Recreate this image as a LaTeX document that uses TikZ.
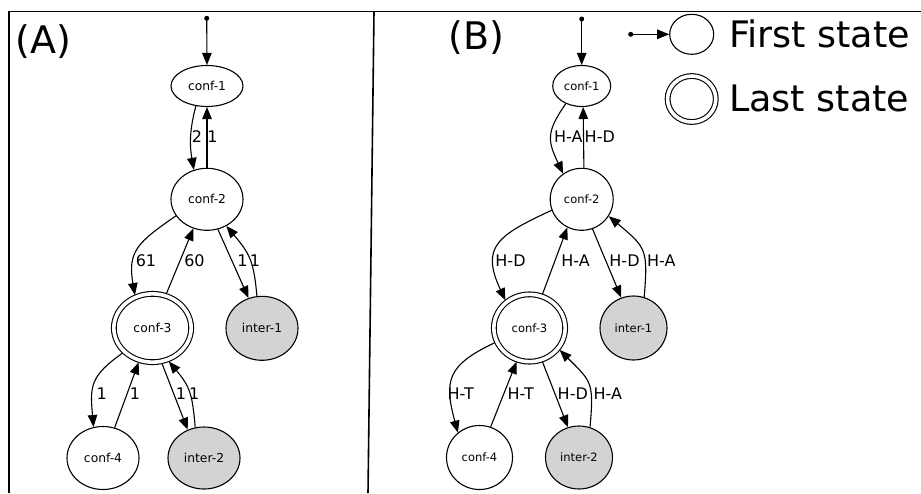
\documentclass[tikz,border=0pt]{standalone}
\usepackage{fontspec}
\setmainfont{DejaVu Sans}
\usetikzlibrary{arrows.meta,shapes.geometric}
\definecolor{nodegray}{RGB}{211,211,211}
\begin{document}
\begin{tikzpicture}[x=1pt,y=-1pt,
  st/.style={draw, ellipse, line width=1.1pt, inner sep=0pt, font=\fontsize{12.3}{14}\selectfont},
  stb/.style={st, font=\fontsize{11.5}{13}\selectfont},
  inter/.style={fill=nodegray},
  final/.style={double, double distance=3.6pt, outer sep=2.35pt},
  edge/.style={line width=1.1pt, -{Triangle[length=12pt,width=9.5pt]}},
  lbl/.style={font=\fontsize{16}{19}\selectfont, inner sep=0pt},
  big/.style={font=\fontsize{36.5}{44}\selectfont, inner sep=0pt, anchor=base west},
  title/.style={font=\fontsize{38}{46}\selectfont, inner sep=0pt, anchor=base west},
  frame/.style={line width=1.6pt},
  initdot/.style={fill=black}
]
\useasboundingbox (0,0) rectangle (921,493);
% frame
\coordinate (tl) at (9,11.5);
\coordinate (tr) at (921,11.5);
\coordinate (bl) at (9,493);
\coordinate (dt) at (374,11.5);
\coordinate (db) at (368,493);
\draw[frame] (bl) -- (tl) -- (tr);
\draw[frame] (dt) -- (db);

% titles
\node[title] (tA) at (15,53) {(A)};
\node[title] (tB) at (448.5,49) {(B)};

% ---------- panel A ----------
\coordinate (a0) at (206.7,18.3);
\fill[initdot] (a0) circle (2.5pt);
\node[st, minimum width=72pt, minimum height=41pt] (a1) at (207,86) {conf-1};
\node[st, minimum width=72pt, minimum height=62pt] (a2) at (207,199.3) {conf-2};
\node[st, final, minimum width=77.3pt, minimum height=68.3pt] (a3) at (152.5,328) {conf-3};
\node[st, inter, minimum width=72pt, minimum height=64pt] (ai1) at (262,328.3) {inter-1};
\node[st, minimum width=72pt, minimum height=63pt] (a4) at (103,458) {conf-4};
\node[st, inter, minimum width=72pt, minimum height=62pt] (ai2) at (204,458) {inter-2};

\draw[edge] (a0) -- (a1.north);
\draw[edge] (a1.241) to[out=255,in=100] (a2.114);
\draw[edge] (a2.north) -- (a1.south);
\draw[edge] (a2.208) to[out=215,in=100,looseness=1.3] (a3.118);
\draw[edge] (a3.68) -- (a2.245);
\draw[edge] (a2.290) -- (ai1.114);
\draw[edge] (ai1.99) to[out=95,in=310,looseness=1.2] (a2.306);
\draw[edge] (a3.220) to[out=215,in=95,looseness=1.3] (a4.107);
\draw[edge] (a4.69) -- (a3.248);
\draw[edge] (a3.285) -- (ai2.120);
\draw[edge] (ai2.106) to[out=95,in=310,looseness=1.2] (a3.296);

\node[lbl] (la1) at (197,136.7) {2};
\node[lbl] (la2) at (212.5,136.7) {1};
\node[lbl] (la3) at (146,260.7) {61};
\node[lbl] (la4) at (194.5,260.7) {60};
\node[lbl] (la5) at (242.5,260.7) {1};
\node[lbl] (la6) at (255,260.7) {1};
\node[lbl] (la7) at (101.7,394) {1};
\node[lbl] (la8) at (135,394) {1};
\node[lbl] (la9) at (181,394) {1};
\node[lbl] (la10) at (194.3,394) {1};

% ---------- panel B ----------
\coordinate (b0) at (581.7,19);
\fill[initdot] (b0) circle (2.5pt);
\node[stb, minimum width=58pt, minimum height=41pt] (b1) at (581.7,86) {conf-1};
\node[stb, minimum width=63pt, minimum height=62pt] (b2) at (581.7,199.3) {conf-2};
\node[stb, final, minimum width=71.3pt, minimum height=67.3pt] (b3) at (529.5,328) {conf-3};
\node[stb, inter, minimum width=67pt, minimum height=64pt] (bi1) at (633.5,328) {inter-1};
\node[stb, minimum width=66pt, minimum height=64pt] (b4) at (479.5,457.5) {conf-4};
\node[stb, inter, minimum width=67pt, minimum height=63pt] (bi2) at (579,457.5) {inter-2};

\draw[edge] (b0) -- (b1.north);
\draw[edge] (b1.228) to[out=235,in=115,looseness=1.3] (b2.126);
\draw[edge] (b2.86) -- (b1.274);
\draw[edge] (b2.200) to[out=205,in=115,looseness=1.5] (b3.131);
\draw[edge] (b3.69) -- (b2.243);
\draw[edge] (b2.290) -- (bi1.112);
\draw[edge] (bi1.71) to[out=85,in=320,looseness=1.4] (b2.328);
\draw[edge] (b3.203) to[out=205,in=105,looseness=1.4] (b4.131);
\draw[edge] (b4.70) -- (b3.249);
\draw[edge] (b3.291) -- (bi2.110);
\draw[edge] (bi2.70) to[out=85,in=315,looseness=1.4] (b3.324);

\node[lbl] (lb1) at (568.3,136.7) {H-A};
\node[lbl] (lb2) at (599.8,136.7) {H-D};
\node[lbl] (lb3) at (510.5,260.7) {H-D};
\node[lbl] (lb4) at (575.5,260.7) {H-A};
\node[lbl] (lb5) at (624.5,260.7) {H-D};
\node[lbl] (lb6) at (661.3,260.7) {H-A};
\node[lbl] (lb7) at (460.7,393.3) {H-T};
\node[lbl] (lb8) at (520.7,393.3) {H-T};
\node[lbl] (lb9) at (572.8,393.3) {H-D};
\node[lbl] (lb10) at (607.8,393.3) {H-A};

% ---------- legend ----------
\coordinate (g0) at (630.7,34.3);
\fill[initdot] (g0) circle (2.5pt);
\node[st, minimum width=44pt, minimum height=40pt] (gfirst) at (691.7,34.3) {};
\draw[edge, line width=1.4pt] (g0) -- (gfirst.west);
\node[st, final, minimum width=48.2pt, minimum height=46pt] (glast) at (691.7,99) {};
\node[big] (tfirst) at (729,47.7) {First state};
\node[big] (tlast) at (729,111) {Last state};
\end{tikzpicture}
\end{document}
